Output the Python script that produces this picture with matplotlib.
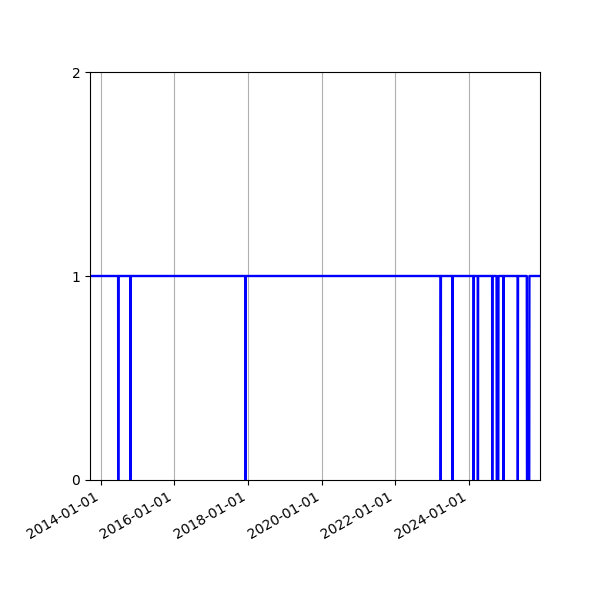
import matplotlib
matplotlib.use("Agg")
import matplotlib.pyplot as plt
import matplotlib.dates as mdates
import numpy as np
import pandas as pd

# series range (daily) and the days where the value drops to 0
start_date = "2013-09-17"
end_date = "2025-12-08"
zero_days = ["2014-06-24", "2014-10-23", "2017-12-08", "2023-03-29",
             "2023-07-24", "2024-02-19", "2024-04-01", "2024-08-21",
             "2024-12-12", "2025-05-02"]
zero_spans = [("2024-10-04", "2024-10-20"), ("2025-07-31", "2025-08-23")]

dates = pd.date_range(start_date, end_date, freq="D")
values = pd.Series(1.0, index=dates)
values[pd.to_datetime(zero_days)] = 0.0
for a, b in zero_spans:
    values[a:b] = 0.0

fig, ax = plt.subplots(figsize=(6, 6), dpi=100)
ax.plot(values.index, values.values, color="blue", linewidth=1.7)
ax.set_xlim(dates[0], dates[-1])
ax.set_ylim(0, 2)
ax.set_yticks([0, 1, 2])
ax.xaxis.set_major_locator(mdates.YearLocator(2))
ax.xaxis.set_major_formatter(mdates.DateFormatter("%Y-%m-%d"))
ax.grid(axis="x")
fig.autofmt_xdate()
fig.subplots_adjust(left=0.15, right=0.9, top=0.88, bottom=0.2)
fig.savefig("out.png")
